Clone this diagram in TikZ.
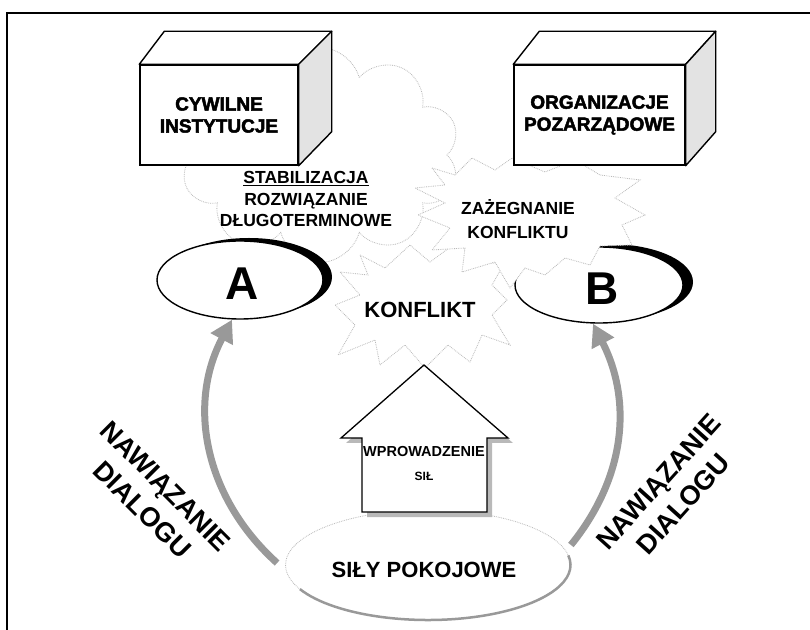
\documentclass[tikz,border=0pt]{standalone}
\usepackage{fontspec}
\setmainfont{Liberation Sans}
\newfontfamily\blackfont{Liberation Sans}[UprightFeatures={FakeBold=2.5},BoldFeatures={FakeBold=2.5}]
\usetikzlibrary{shapes.geometric,shapes.symbols,arrows.meta}
\begin{document}
\begin{tikzpicture}[x=1pt,y=1pt,
  frame/.style={line width=2pt},
  frontface/.style={draw, line width=1.4pt, fill=white, inner sep=0,
    align=center, font=\blackfont\bfseries\fontsize{19}{22}\selectfont},
  sideface/.style={draw, line width=1.4pt, fill=gray!22, line join=round},
  topface/.style={draw, line width=1.4pt, fill=white, line join=round},
  faint/.style={draw=gray!55, densely dotted, line width=0.8pt, fill=white},
  ring/.style={ellipse, draw, line width=1.4pt, fill=white, inner sep=0},
  letter/.style={font=\bfseries\fontsize{46}{50}\selectfont, inner sep=0},
  midtext/.style={font=\bfseries\fontsize{17.5}{21.5}\selectfont, align=center, inner sep=0},
  zaztext/.style={font=\bfseries\fontsize{17.5}{24}\selectfont, align=center, inner sep=0},
  bigtext/.style={font=\bfseries\fontsize{22}{26}\selectfont, inner sep=0},
  rottext/.style={font=\bfseries\fontsize{27}{33}\selectfont, align=center, inner sep=0},
  housetext/.style={font=\bfseries\fontsize{#1}{#1}\selectfont, inner sep=0},
  dialog/.style={draw=gray!80, line width=7pt, -{Triangle[width=24pt,length=22pt]}}
]
\useasboundingbox (0,0) rectangle (810,629);
\clip (0,0) rectangle (810,629);

% outer frame (runs past the right and bottom edges)
\draw[frame] (7,-20) rectangle (840,616);

% soft cloud behind the long-term solution
\node[cloud, cloud puffs=10, cloud ignores aspect, minimum width=280,
      minimum height=215, faint] (stabcloud) at (320,474) {};

% ellipse A with its dark crescent
\fill (249,352) ellipse [x radius=83, y radius=39];
\node[ring, minimum width=166, minimum height=78] (A) at (240,349) {};

% ellipse B with its dark crescent
\fill (609,347) ellipse [x radius=84, y radius=38];
\node[ring, minimum width=168, minimum height=76] (B) at (599,344) {};

% burst around the conflict
\draw[faint] (360,374) -- (385,361) -- (410,384) -- (430,367) -- (460,389)
  -- (472,364) -- (505,367) -- (492,344) -- (507,329) -- (492,314)
  -- (510,284) -- (482,294) -- (470,267) -- (448,284) -- (425,261)
  -- (405,284) -- (380,264) -- (375,289) -- (338,274) -- (355,304)
  -- (335,324) -- (360,334) -- (340,357) -- (368,354) -- cycle;

% burst around the conflict resolution
\draw[faint] (432,461) -- (455,454) -- (472,471) -- (495,459) -- (512,471)
  -- (545,457) -- (575,469) -- (600,454) -- (640,449) -- (615,431)
  -- (645,414) -- (622,404) -- (632,384) -- (600,383) -- (590,364)
  -- (565,371) -- (545,354) -- (525,361) -- (510,341) -- (495,367)
  -- (462,357) -- (465,381) -- (432,379) -- (450,401) -- (418,414)
  -- (445,426) -- (415,441) -- (445,444) -- cycle;

% box: civil institutions
\node[frontface, minimum width=158, minimum height=100] (cyw) at (219,514)
  {CYWILNE\\INSTYTUCJE};
\draw[topface] (cyw.north west) -- ++(25,33) -- ([shift={(33,33)}]cyw.north east)
  -- (cyw.north east) -- cycle;
\draw[sideface] (cyw.north east) -- ++(33,33) -- ([shift={(33,34)}]cyw.south east)
  -- (cyw.south east) -- cycle;

% box: non-governmental organisations
\node[frontface, minimum width=171, minimum height=100] (ngo) at (599.5,514)
  {ORGANIZACJE\\POZARZĄDOWE};
\draw[topface] (ngo.north west) -- ++(26,33) -- ([shift={(30,33)}]ngo.north east)
  -- (ngo.north east) -- cycle;
\draw[sideface] (ngo.north east) -- ++(30,33) -- ([shift={(30,34)}]ngo.south east)
  -- (ngo.south east) -- cycle;

% labels
\node[midtext] (stab) at (306,430)
  {\underline{STABILIZACJA}\\ROZWIĄZANIE\\DŁUGOTERMINOWE};
\node[zaztext] (zaz) at (518,410) {ZAŻEGNANIE\\KONFLIKTU};
\node[bigtext] (konf) at (420,319) {KONFLIKT};
\node[letter] (Atxt) at (242,345) {A};
\node[letter] (Btxt) at (602,340) {B};

% peace forces
\node[ellipse, minimum width=285, minimum height=110, faint] (sily) at (428,64) {};
\draw[draw=gray!80, line width=2.5pt] (sily.center) ++(206:142.5 and 55)
  arc[start angle=206, end angle=370, x radius=142.5, y radius=55];
\node[bigtext] (silytxt) at (424,59) {SIŁY POKOJOWE};

% upward arrow: introduction of forces
\fill[gray!55] (367,112) -- (367,186) -- (346,186) -- (429,259) -- (513,186)
  -- (492,186) -- (492,112) -- cycle;
\draw[line width=1.3pt, fill=white, line join=miter] (362,117) -- (362,191)
  -- (341,191) -- (424,264) -- (508,191) -- (487,191) -- (487,117) -- cycle;
\node[housetext=14.5] (force1) at (424,177) {WPROWADZENIE};
\node[housetext=12] (force2) at (424,153) {SIŁ};

% dialogue arrows
\draw[dialog] ([shift={(-8,2)}]sily.west) to[out=138,in=242] ([xshift=-8]A.south);
\draw[dialog] ([yshift=20]sily.east) to[out=51,in=297] ([xshift=-6]B.south);

\node[rottext, rotate=-45] (dialogL) at (154,131) {NAWIĄZANIE\\DIALOGU};
\node[rottext, rotate=48] (dialogR) at (671,136) {NAWIĄZANIE\\DIALOGU};
\end{tikzpicture}
\end{document}
